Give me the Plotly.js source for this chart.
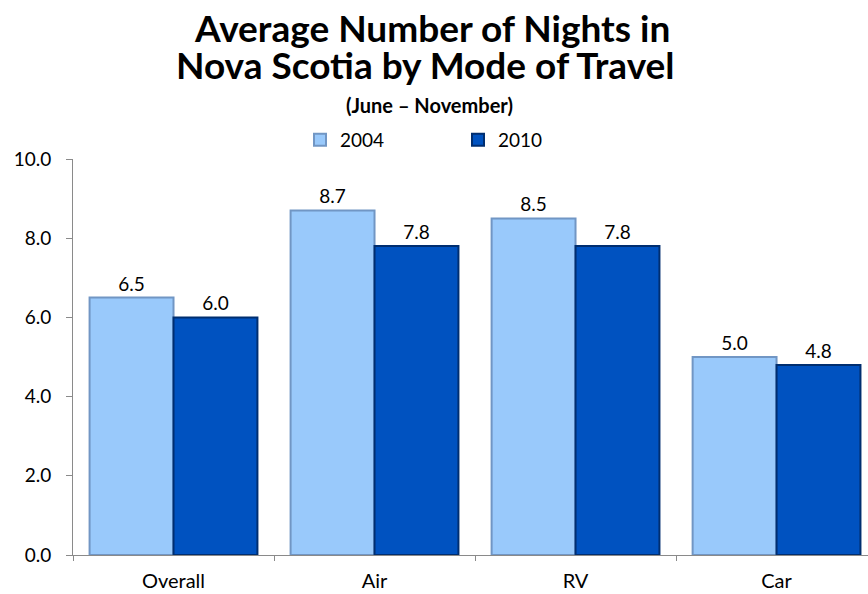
<!DOCTYPE html>
<html>
<head>
<meta charset="utf-8">
<script src="https://cdn.plot.ly/plotly-3.0.1.min.js"></script>
<style>html,body{margin:0;padding:0;background:#fff;}#chart{width:868px;height:594px;}</style>
</head>
<body>
<div id="chart"></div>
<script>
var categories = ["Overall", "Air", "RV", "Car"];
var values2004 = [6.5, 8.7, 8.5, 5.0];
var values2010 = [6.0, 7.8, 7.8, 4.8];
var seriesNames = ["2004", "2010"];
var yTicks = [0, 2, 4, 6, 8, 10];
var yTickLabels = ["0.0", "2.0", "4.0", "6.0", "8.0", "10.0"];
var titleLines = ["Average Number of Nights in", "Nova Scotia by Mode of Travel"];
var subtitle = "(June – November)";

var FONT = "Lato, 'Open Sans', sans-serif";

function pxToPaperY(p) { return (555 - p) / 397; }

var trace1 = {
  type: "bar", name: seriesNames[0], x: categories, y: values2004,
  marker: {color: "#99C9FB", line: {color: "#7196C4", width: 2}},
  text: values2004.map(function(v){return v.toFixed(1);}),
  textposition: "outside", cliponaxis: false,
  textfont: {size: 19, color: "#000", family: FONT},
  hoverinfo: "x+y"
};
var trace2 = {
  type: "bar", name: seriesNames[1], x: categories, y: values2010,
  marker: {color: "#0052C0", line: {color: "#002E70", width: 2}},
  text: values2010.map(function(v){return v.toFixed(1);}),
  textposition: "outside", cliponaxis: false,
  textfont: {size: 19, color: "#000", family: FONT},
  hoverinfo: "x+y"
};

var layout = {
  width: 868, height: 594,
  margin: {l: 73, r: 0, t: 158, b: 39},
  paper_bgcolor: "#fff", plot_bgcolor: "#fff",
  font: {family: FONT, color: "#000", size: 19},
  barmode: "group", bargap: 0.165, bargroupgap: 0,
  showlegend: true,
  annotations: [
    {text: "<b>" + titleLines[0] + "</b>", xref: "paper", yref: "paper",
     x: (432 - 73) / 795, y: pxToPaperY(26), xanchor: "center", yanchor: "middle",
     showarrow: false, font: {size: 37, family: FONT, color: "#000"}},
    {text: "<b>" + titleLines[1] + "</b>", xref: "paper", yref: "paper",
     x: (425 - 73) / 795, y: pxToPaperY(63), xanchor: "center", yanchor: "middle",
     showarrow: false, font: {size: 37, family: FONT, color: "#000"}},
    {text: "<b>" + subtitle + "</b>", xref: "paper", yref: "paper",
     x: (429 - 73) / 795, y: pxToPaperY(104), xanchor: "center", yanchor: "middle",
     showarrow: false, font: {size: 20, family: FONT, color: "#000"}}
  ],
  legend: {
    orientation: "h", x: 300 / 868, xanchor: "left", xref: "container",
    y: 1 - 140/594, yanchor: "middle", yref: "container",
    font: {size: 19, family: FONT}, entrywidth: 113, entrywidthmode: "pixels",
    traceorder: "normal", itemclick: false, itemdoubleclick: false
  },
  xaxis: {
    type: "category", range: [-0.5, 3.455],
    showline: true, linecolor: "#8a8a8a", linewidth: 1,
    ticks: "outside", tickson: "boundaries", ticklen: 5, tickcolor: "#8a8a8a",
    showgrid: false, zeroline: false, ticklabelstandoff: 8,
    tickfont: {size: 20, family: FONT}, fixedrange: true
  },
  yaxis: {
    range: [0, 10], tickvals: yTicks, ticktext: yTickLabels,
    showline: true, linecolor: "#8a8a8a", linewidth: 1,
    ticks: "outside", ticklen: 6, tickcolor: "#8a8a8a",
    showgrid: false, zeroline: false, ticklabelstandoff: 11,
    tickfont: {size: 19, family: FONT}, fixedrange: true
  }
};

Plotly.newPlot("chart", [trace1, trace2], layout, {displayModeBar: false});
</script>
</body>
</html>
